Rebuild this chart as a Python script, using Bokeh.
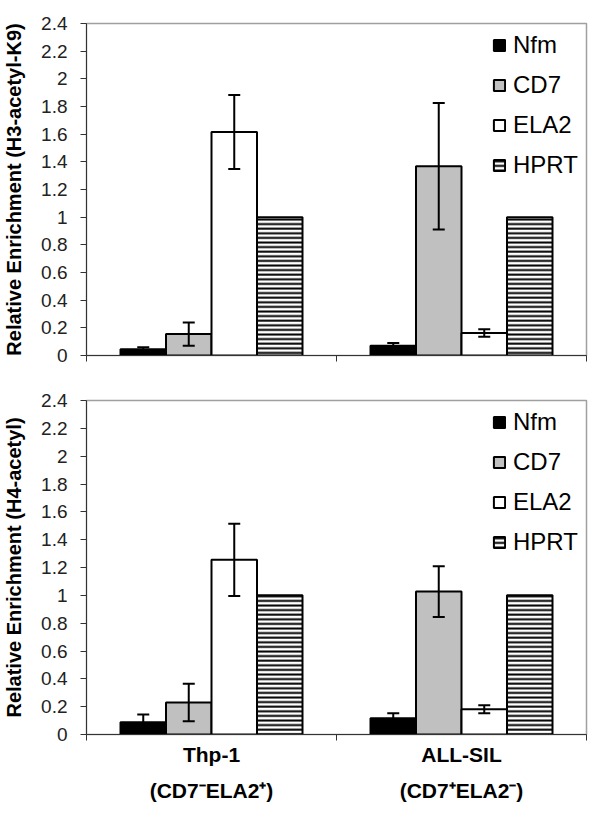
from bokeh.plotting import figure
from bokeh.models import (Range1d, FixedTicker, LinearAxis, NumeralTickFormatter,
                          Whisker, TeeHead, ColumnDataSource, Legend, LegendItem)
from bokeh.layouts import column
from bokeh.embed import file_html
from bokeh.resources import INLINE

# ---------------- data ----------------
cells = ["Thp-1", "ALL-SIL"]
cell_sublabels = ["(CD7\u207bELA2\u207a)", "(CD7\u207aELA2\u207b)"]
genes = ["Nfm", "CD7", "ELA2", "HPRT"]
yticks = [0, 0.2, 0.4, 0.6, 0.8, 1.0, 1.2, 1.4, 1.6, 1.8, 2.0, 2.2, 2.4]

# H3-acetyl-K9 panel, values per gene for [Thp-1, ALL-SIL]
h3_nfm = [0.045, 0.07]
h3_cd7 = [0.155, 1.368]
h3_ela2 = [1.616, 0.162]
h3_hprt = [1.0, 1.0]
h3_nfm_err = [0.015, 0.02]
h3_cd7_err = [0.084, 0.457]
h3_ela2_err = [0.267, 0.027]
h3_hprt_err = [0.0, 0.0]

# H4-acetyl panel
h4_nfm = [0.088, 0.117]
h4_cd7 = [0.23, 1.027]
h4_ela2 = [1.255, 0.182]
h4_hprt = [1.0, 1.0]
h4_nfm_err = [0.056, 0.036]
h4_cd7_err = [0.135, 0.182]
h4_ela2_err = [0.259, 0.029]
h4_hprt_err = [0.0, 0.0]

# ---------------- style ----------------
FONT = "Liberation Sans"
fills = ["black", "#c0c0c0", "white", "white"]
hatches = [None, None, None, "horizontal_line"]
BAR_W = 0.182


def make_panel(vals, errs, ylabel, show_labels, height, b_top, b_bottom, frame_h):
    p = figure(width=592, height=height, output_backend="svg", toolbar_location=None,
               x_range=Range1d(0, 2), y_range=Range1d(0, 2.4),
               min_border_left=86, min_border_right=6,
               min_border_top=b_top, min_border_bottom=b_bottom,
               background_fill_color="white", border_fill_color="white")
    p.xgrid.visible = False
    p.ygrid.visible = False
    p.outline_line_color = "#a0a0a0"
    p.outline_line_width = 1.5

    renderers = []
    for j, g in enumerate(genes):
        xs = [i + 0.5 + (j - 1.5) * BAR_W for i in range(len(cells))]
        top = vals[j]
        err = errs[j]
        src = ColumnDataSource(dict(
            x=xs, top=top,
            upper=[t + e for t, e in zip(top, err)],
            lower=[t - e for t, e in zip(top, err)]))
        kw = dict(fill_color=fills[j], line_color="black", line_width=2)
        if hatches[j]:
            kw.update(hatch_pattern=hatches[j], hatch_color="black",
                      hatch_weight=2, hatch_scale=4.6)
        r = p.vbar(x="x", top="top", width=BAR_W, bottom=0, source=src, **kw)
        renderers.append(r)
        if any(e > 0 for e in err):
            w = Whisker(base="x", upper="upper", lower="lower", source=src,
                        line_color="black", line_width=2, level="annotation",
                        upper_head=TeeHead(size=12, line_color="black", line_width=2),
                        lower_head=TeeHead(size=12, line_color="black", line_width=2))
            p.add_layout(w)

    # y axis
    ya = p.yaxis[0]
    ya.ticker = FixedTicker(ticks=yticks)
    ya.formatter = NumeralTickFormatter(format="0.[0]")
    ya.major_tick_out = 6
    ya.major_tick_in = 0
    ya.minor_tick_line_color = None
    ya.major_label_standoff = 13
    ya.major_label_text_font = FONT
    ya.major_label_text_font_size = "19px"
    ya.major_label_text_color = "#222222"
    ya.axis_line_color = "#333333"
    ya.major_tick_line_color = "#333333"
    ya.axis_label = ylabel
    ya.axis_label_text_font = FONT
    ya.axis_label_text_font_size = "20px"
    ya.axis_label_text_font_style = "bold"
    ya.axis_label_text_color = "black"
    ya.axis_label_standoff = 13

    # x axis: boundary ticks, category names
    xa = p.xaxis[0]
    xa.ticker = FixedTicker(ticks=[0.5, 1.5], minor_ticks=[0, 1, 2])
    xa.major_tick_line_color = None
    xa.major_tick_out = 0
    xa.major_tick_in = 0
    xa.minor_tick_in = 0
    xa.minor_tick_out = 6
    xa.minor_tick_line_color = "#333333"
    xa.axis_line_color = "#333333"
    xa.major_label_text_font = FONT
    xa.major_label_text_font_style = "bold"
    xa.major_label_text_color = "black"
    if show_labels:
        xa.major_label_overrides = {0.5: cells[0], 1.5: cells[1]}
        xa.major_label_text_font_size = "21px"
        xa.major_label_standoff = 2
        xa2 = LinearAxis(ticker=FixedTicker(ticks=[0.5, 1.5]))
        xa2.major_label_overrides = {0.5: cell_sublabels[0], 1.5: cell_sublabels[1]}
        xa2.axis_line_color = None
        xa2.major_tick_line_color = None
        xa2.minor_tick_line_color = None
        xa2.major_tick_out = 0
        xa2.major_tick_in = 0
        xa2.major_label_standoff = 10
        xa2.major_label_text_font = FONT
        xa2.major_label_text_font_style = "bold"
        xa2.major_label_text_font_size = "21px"
        xa2.major_label_text_color = "black"
        p.add_layout(xa2, "below")
    else:
        xa.major_label_overrides = {0.5: "", 1.5: ""}
        xa.major_label_text_font_size = "1px"
        xa.major_label_standoff = 0

    # legend
    item_h = 27
    spacing = 12
    leg_h = len(genes) * item_h + (len(genes) - 1) * spacing
    leg = Legend(items=[LegendItem(label=g, renderers=[r]) for g, r in zip(genes, renderers)],
                 location=(406, frame_h - 12 - leg_h),
                 glyph_width=14, glyph_height=14, label_height=item_h,
                 label_standoff=7, spacing=spacing, padding=0, margin=0,
                 label_text_font=FONT, label_text_font_size="24px",
                 label_text_color="black",
                 border_line_color=None, background_fill_alpha=0)
    p.add_layout(leg)
    return p


p1 = make_panel([h3_nfm, h3_cd7, h3_ela2, h3_hprt],
                [h3_nfm_err, h3_cd7_err, h3_ela2_err, h3_hprt_err],
                "Relative Enrichment (H3-acetyl-K9)", False,
                height=386, b_top=23, b_bottom=31, frame_h=332)
p2 = make_panel([h4_nfm, h4_cd7, h4_ela2, h4_hprt],
                [h4_nfm_err, h4_cd7_err, h4_ela2_err, h4_hprt_err],
                "Relative Enrichment (H4-acetyl)", True,
                height=426, b_top=14, b_bottom=78, frame_h=334)

layout = column(p1, p2, spacing=0)
open("out.html", "w").write(file_html(layout, INLINE))
